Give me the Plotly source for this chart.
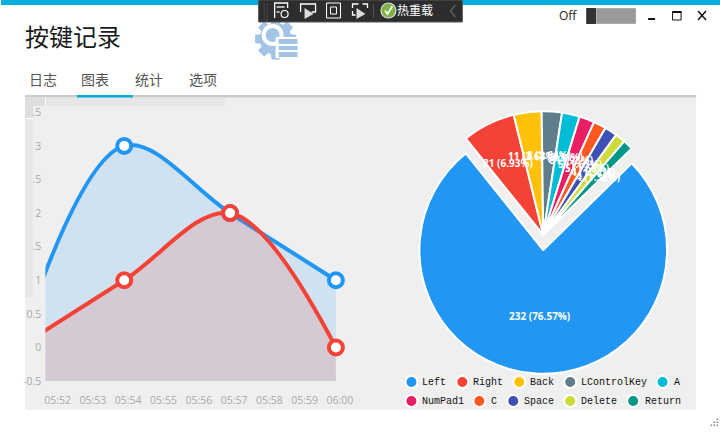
import math
import plotly.graph_objects as go

# line chart data
times = ['2024-01-01 05:51', '2024-01-01 05:54', '2024-01-01 05:57', '2024-01-01 06:00']
left_counts = [0, 3, 2, 1]
right_counts = [0, 1, 2, 0]
floor_values = [-0.5, -0.5, -0.5, -0.5]
x_ticks = ['05:52', '05:53', '05:54', '05:55', '05:56', '05:57', '05:58', '05:59', '06:00']
y_ticks = [-0.5, 0, 0.5, 1, 1.5, 2, 2.5, 3, 3.5]
y_labels = ['-0.5', '0', '0.5', '1', '1.5', '2', '2.5', '3', '3.5']

# pie data
keys = ['Left', 'Right', 'Back', 'LControlKey', 'A', 'NumPad1', 'C', 'Space', 'Delete', 'Return']
counts = [232, 21, 11, 8, 7, 6, 5, 5, 4, 4]
colors = ['#2196F3', '#F44336', '#FFC107', '#607D8B', '#00BCD4',
          '#E91E63', '#FF5722', '#3F51B5', '#CDDC39', '#009688']

W, H = 720, 432
ui_font = 'Noto Sans CJK SC'


def px(x):
    return x / W


def py(y):
    return 1 - y / H


shapes = []
notes = []


def rect(x0, y0, x1, y1, color, layer='below', line=None):
    shapes.append(dict(type='rect', xref='paper', yref='paper', layer=layer,
                       x0=px(x0), x1=px(x1), y0=py(y0), y1=py(y1), fillcolor=color,
                       line=dict(width=1 if line else 0, color=line or color)))


def circle(cx, cy, r, color, layer='above', line=None, lw=0):
    shapes.append(dict(type='circle', xref='paper', yref='paper', layer=layer,
                       x0=px(cx - r), x1=px(cx + r), y0=py(cy - r), y1=py(cy + r), fillcolor=color,
                       line=dict(width=lw, color=line or color)))


def stroke(points, color='white', width=1.3):
    path = 'M' + ' L'.join(f'{px(x):.5f},{py(y):.5f}' for x, y in points)
    shapes.append(dict(type='path', xref='paper', yref='paper', layer='above', path=path,
                       line=dict(color=color, width=width)))


def polygon(points, color):
    path = 'M' + ' L'.join(f'{px(x):.5f},{py(y):.5f}' for x, y in points) + ' Z'
    shapes.append(dict(type='path', xref='paper', yref='paper', layer='below', path=path,
                       fillcolor=color, line=dict(width=0)))


def text(x, y, s, size=12, color='#222222', family=ui_font, anchor='left', bold=False):
    notes.append(dict(xref='paper', yref='paper', x=px(x), y=py(y), text=f'<b>{s}</b>' if bold else s,
                      showarrow=False, xanchor=anchor, yanchor='middle',
                      font=dict(size=size, color=color, family=family), borderpad=0, borderwidth=0))


# window chrome
rect(0, 0, 720, 5, '#00AEDB')
rect(24, 97, 696, 410, '#EFEFEF')
rect(24, 95, 696, 97.5, '#CCCCCC')
rect(76, 95, 132, 98, '#00AEDB')
text(24.5, 35.5, '按键记录', size=24, color='#1A1A1A')
for label, x in zip(['日志', '图表', '统计', '选项'], [28, 80, 134, 188]):
    text(x, 79, label, size=14, color='#555555')

# gear icon
gear = []
for i in range(8):
    a = i * math.pi / 4
    for da, r in [(-0.3, 16), (-0.2, 21), (0.2, 21), (0.3, 16)]:
        gear.append((275 + r * math.cos(a + da), 39 + r * math.sin(a + da)))
polygon(gear, '#A4C4E6')
circle(272, 35, 11, 'white', layer='below')
circle(272, 35, 7, '#A4C4E6', layer='below')
rect(275, 37, 298, 58, 'white')
for y0, y1 in [(39, 44), (46, 50), (52, 57)]:
    rect(278, y0, 297, y1, '#A4C4E6')

# debug toolbar
rect(258, 0, 462, 22, '#2D2D30', layer='above', line='#555555')
for y in range(4, 20, 3):
    stroke([(263, y), (264, y)], '#777777', 1)
    stroke([(266, y + 1), (267, y + 1)], '#777777', 1)
stroke([(274, 18), (274, 3), (287, 3), (287, 8)])
stroke([(276, 7), (284, 7)])
stroke([(276, 12), (279, 12)])
circle(284, 14, 3.5, '#2D2D30', line='white', lw=1.2)
stroke([(300, 12), (300, 4), (315, 4), (315, 12), (311, 12)])
shapes.append(dict(type='path', xref='paper', yref='paper', layer='above',
                   path=f'M{px(304)},{py(8)} L{px(304)},{py(19)} L{px(313)},{py(14)} Z',
                   fillcolor='#DDDDDD', line=dict(width=0)))
rect(326, 3, 340, 18, '#2D2D30', layer='above', line='white')
rect(330, 7, 336, 14, '#2D2D30', layer='above', line='white')
stroke([(352, 8), (352, 4), (358, 4)])
stroke([(362, 4), (367, 4), (367, 8)])
stroke([(352, 11), (352, 15), (355, 15)])
shapes.append(dict(type='path', xref='paper', yref='paper', layer='above',
                   path=f'M{px(356)},{py(8)} L{px(356)},{py(19)} L{px(365)},{py(14)} Z',
                   fillcolor='#DDDDDD', line=dict(width=0)))
stroke([(373, 4), (373, 18)], '#555555', 1)
circle(388, 10.5, 7.5, '#7CB342', line='#DDDDDD', lw=1.2)
stroke([(384.5, 10.5), (387, 14), (392, 6)], 'white', 1.6)
stroke([(455, 5), (450, 11), (455, 17)], '#666666', 1.2)
text(397, 10, '热重载', size=12, color='white')

# top right controls
text(559, 15.5, 'Off', size=12, color='#222222', family='Open Sans')
rect(586, 8, 596, 24, '#333333')
rect(596.5, 8.5, 635.5, 23.5, '#999999', line='#AAAAAA')
rect(648, 18, 655, 20, '#111111')
rect(672.5, 11.5, 681, 20, 'white', line='#111111')
rect(672, 11, 681.5, 13, '#111111')
stroke([(698, 11), (706, 20)], '#111111', 1.5)
stroke([(706, 11), (698, 20)], '#111111', 1.5)

# resize grip
for x, y in [(717, 418), (714, 421), (717, 421), (711, 424), (714, 424), (717, 424)]:
    rect(x - 0.5, y + 0.5, x + 1, y + 2, '#888888')

# strips left over at the chart's top left corner
rect(45, 97.5, 224, 106, '#E6E6E6')
rect(24, 97.5, 44, 106, '#DEDEDE', layer='above')
rect(24, 106, 32, 118, '#DEDEDE', layer='above')
rect(24, 119, 32, 297, '#E8E8E8', layer='above')
rect(24, 118, 32, 119, 'white', layer='above')
rect(44, 97.5, 45, 106, 'white', layer='above')

fig = go.Figure()

# area floor + curve, one pair per series
for name, vals, col, fill in [('Left', left_counts, '#2196F3', 'rgba(33,150,243,0.15)'),
                              ('Right', right_counts, '#F44336', 'rgba(244,67,54,0.15)')]:
    fig.add_trace(go.Scatter(x=times, y=floor_values, mode='lines', line=dict(width=0),
                             showlegend=False, hoverinfo='skip'))
    fig.add_trace(go.Scatter(x=times, y=vals, mode='lines+markers', name=name, fill='tonexty',
                             fillcolor=fill, line=dict(color=col, width=4, shape='spline', smoothing=1),
                             marker=dict(size=14, color='white', line=dict(color=col, width=4)),
                             showlegend=False))

# the first slice stays put, the rest are lifted together
others_cy, left_cy, pie_cx, pie_r = 235, 250, 543, 124
start_angle = 45.6
fig.add_trace(go.Pie(labels=keys, values=counts, sort=False, direction='clockwise', rotation=start_angle,
                     textinfo='none', showlegend=False,
                     domain=dict(x=[px(pie_cx - pie_r), px(pie_cx + pie_r)],
                                 y=[py(left_cy + pie_r), py(left_cy - pie_r)]),
                     marker=dict(colors=[colors[0]] + ['rgba(0,0,0,0)'] * 9,
                                 line=dict(color='white', width=[2] + [0] * 9))))
fig.add_trace(go.Pie(labels=keys, values=counts, sort=False, direction='clockwise', rotation=start_angle,
                     textinfo='none', showlegend=False,
                     domain=dict(x=[px(pie_cx - pie_r), px(pie_cx + pie_r)],
                                 y=[py(others_cy + pie_r), py(others_cy - pie_r)]),
                     marker=dict(colors=['rgba(0,0,0,0)'] + colors[1:],
                                 line=dict(color='white', width=[0] + [2] * 9))))

# slice labels
total = sum(counts)
angle = start_angle
for i, c in enumerate(counts):
    sweep = c / total * 360
    mid = math.radians(angle + sweep / 2)
    r, cy = (66, left_cy) if i == 0 else (80, others_cy)
    text(pie_cx + r * math.sin(mid), cy - r * math.cos(mid), f'{c} ({c / total * 100:.2f}%)',
         size=10, color='white', family='Open Sans', anchor='center', bold=True)
    angle += sweep

# legend
legend_x = [(411, 422), (462, 473), (519, 530), (570, 581), (662.5, 674),
            (411, 422), (479, 491), (513, 524), (570, 581), (633, 645)]
for i, key in enumerate(keys):
    y = 382 if i < 5 else 401
    circle(legend_x[i][0], y, 6, colors[i], line='white', lw=2)
    text(legend_x[i][1], y, key, size=10, color='#111111', family='Liberation Mono')

fig.update_layout(
    width=723, height=439, autosize=False,
    margin=dict(l=0, r=0, t=0, b=0),
    paper_bgcolor='white', plot_bgcolor='rgba(0,0,0,0)',
    shapes=shapes, annotations=notes, showlegend=False,
    xaxis=dict(domain=[px(44.5), px(349.5)], type='date',
               range=['2024-01-01 05:51:46', '2024-01-01 06:00:24'],
               tickvals=['2024-01-01 ' + t for t in x_ticks], ticktext=x_ticks,
               ticks='outside', ticklen=9, tickcolor='rgba(0,0,0,0)', ticklabelshift=4,
               showgrid=False, zeroline=False, showline=False,
               tickfont=dict(size=10.5, color='#AAAAAA', family='Open Sans')),
    yaxis=dict(domain=[py(381), py(105)], range=[-0.5, 3.609],
               tickvals=y_ticks, ticktext=y_labels, ticks='outside', ticklen=1, tickcolor='rgba(0,0,0,0)',
               showgrid=False, zeroline=False, showline=False,
               tickfont=dict(size=10.5, color='#AAAAAA', family='Open Sans')),
)

fig.write_html("out.html", config={'displayModeBar': False},
               post_script="document.body.style.margin='0';")
